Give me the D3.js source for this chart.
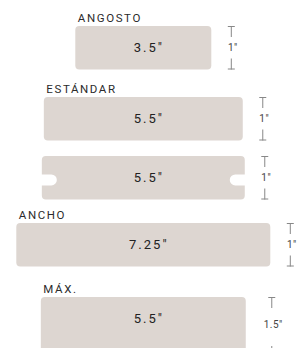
<!DOCTYPE html>
<html>
<head>
<meta charset="utf-8">
<script src="https://cdn.jsdelivr.net/npm/d3@7"></script>
<style>
  html, body { margin: 0; padding: 0; background: #fff; }
  svg { display: block; }
</style>
</head>
<body>
<svg id="chart" width="303" height="348"></svg>
<script>
// ---- data ----
const labels = ["ANGOSTO", "ESTÁNDAR", "", "ANCHO", "MÁX."];
const widths = [3.5, 5.5, 5.5, 7.25, 5.5];          // inches
const thickness = [1, 1, 1, 1, 1.5];                 // inches
const grooved = [false, false, true, false, false];
const widthLabels = ['3.5"', '5.5"', '5.5"', '7.25"', '5.5"'];
const thicknessLabels = ['1"', '1"', '1"', '1"', '1.5"'];

// ---- layout ----
const rowTops = [26, 97, 156, 223, 297];
const centerX = 143.3;
const fill = "#ddd6d1";

const svg = d3.select("#chart");
const wScale = d3.scaleLinear().domain([3.5, 7.25]).range([136, 254]);
const hScale = d3.scaleLinear().domain([1, 1.5]).range([43.5, 60]);

const rows = labels.map((l, i) => ({
  label: l, w: widths[i], t: thickness[i], grooved: grooved[i],
  wl: widthLabels[i], tl: thicknessLabels[i], top: rowTops[i]
}));

function groovedPath(x, y, w, h) {
  const r = 4, nh = 11, nd = 15, nc = y + h * 0.55;
  const n1 = nc - nh / 2, n2 = nc + nh / 2, nr = nh / 2;
  const p = d3.path();
  p.moveTo(x + r, y);
  p.lineTo(x + w - r, y);
  p.arcTo(x + w, y, x + w, y + r, r);
  p.lineTo(x + w, n1);
  p.lineTo(x + w - nd + nr, n1);
  p.arc(x + w - nd + nr, nc, nr, -Math.PI / 2, Math.PI / 2, true);
  p.lineTo(x + w, n2);
  p.lineTo(x + w, y + h - r);
  p.arcTo(x + w, y + h, x + w - r, y + h, r);
  p.lineTo(x + r, y + h);
  p.arcTo(x, y + h, x, y + h - r, r);
  p.lineTo(x, n2);
  p.lineTo(x + nd - nr, n2);
  p.arc(x + nd - nr, nc, nr, Math.PI / 2, -Math.PI / 2, true);
  p.lineTo(x, n1);
  p.lineTo(x, y + r);
  p.arcTo(x, y, x + r, y, r);
  p.closePath();
  return p.toString();
}

const g = svg.selectAll("g.row").data(rows).join("g").attr("class", "row");

g.each(function(d) {
  const sel = d3.select(this);
  const w = wScale(d.w) + (d.grooved ? 4 : 0) + (d.t > 1 ? 6 : 0);
  const h = hScale(d.t);
  const x = centerX - w / 2, y = d.top;
  if (d.grooved) {
    sel.append("path").attr("d", groovedPath(x, y, w, h)).attr("fill", fill);
  } else {
    sel.append("rect").attr("x", x).attr("y", y).attr("width", w).attr("height", h)
      .attr("rx", 4).attr("fill", fill);
  }
  if (d.label) {
    sel.append("text").attr("x", x + 2.5).attr("y", y - 4.5)
      .attr("font-family", "Roboto, sans-serif").attr("font-size", 11.5)
      .attr("font-weight", 400).attr("letter-spacing", "1.6px")
      .attr("fill", "#2b2b2b").text(d.label);
  }
  sel.append("text").attr("x", centerX + 5.5).attr("y", y + 21.5)
    .attr("text-anchor", "middle").attr("dominant-baseline", "central")
    .attr("font-family", "Roboto, sans-serif").attr("font-size", 13)
    .attr("font-weight", 400)
    .attr("letter-spacing", "2px").attr("fill", "#222").text(d.wl);

  // thickness marker
  const mx = x + w + 20 + (d.t > 1 ? 6 : 0), yb = y + h, seg = 11;
  const mk = sel.append("g").attr("stroke", "#888").attr("stroke-width", 1).attr("fill", "none");
  mk.append("line").attr("x1", mx - 3.5).attr("x2", mx + 3.5).attr("y1", y + 0.5).attr("y2", y + 0.5);
  mk.append("line").attr("x1", mx).attr("x2", mx).attr("y1", y).attr("y2", y + seg);
  mk.append("line").attr("x1", mx).attr("x2", mx).attr("y1", yb - seg).attr("y2", yb);
  mk.append("line").attr("x1", mx - 3.5).attr("x2", mx + 3.5).attr("y1", yb - 0.5).attr("y2", yb - 0.5);
  sel.append("text").attr("x", mx + 1.5).attr("y", (y + yb) / 2 - (d.t > 1 ? 3 : 0))
    .attr("text-anchor", "middle").attr("dominant-baseline", "central")
    .attr("font-family", "Roboto, sans-serif").attr("font-size", 10)
    .attr("letter-spacing", "0.5px").attr("fill", "#444").text(d.tl);
});
</script>
</body>
</html>
